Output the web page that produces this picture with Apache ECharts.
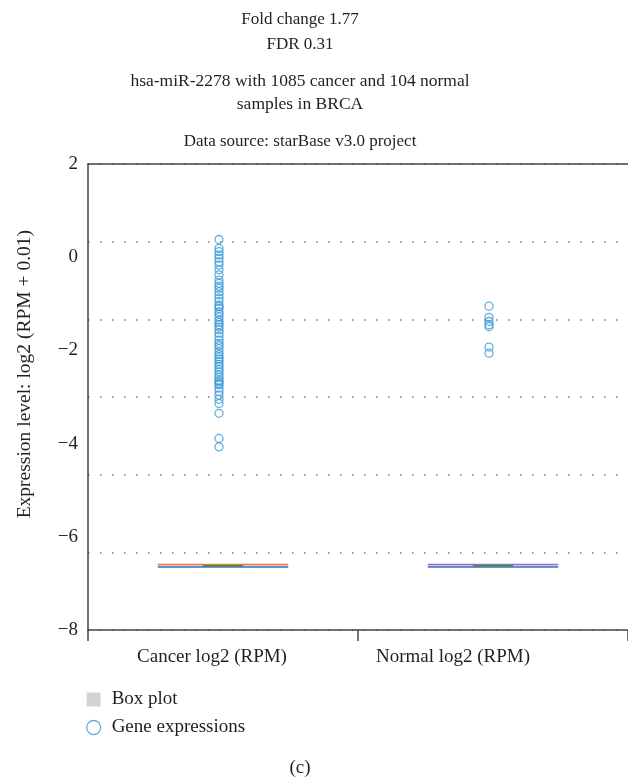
<!DOCTYPE html>
<html>
<head>
<meta charset="utf-8">
<script src="https://cdn.jsdelivr.net/npm/echarts@6/dist/echarts.min.js"></script>
<style>
html,body{margin:0;padding:0;background:#fff;}
#chart{width:628px;height:779px;}
</style>
</head>
<body>
<div id="chart"></div>
<script>
const categories = ['Cancer log2 (RPM)', 'Normal log2 (RPM)'];
const yTicks = [-8, -6, -4, -2, 0, 2];
// visible (distinct) sample values, log2(RPM + 0.01)
const cancerValues = [0.38, 0.19, 0.12, 0.05, -0.02, -0.10, -0.17, -0.27, -0.38, -0.49, -0.56, -0.62, -0.67, -0.74, -0.81, -0.88, -0.95, -1.03, -1.06, -1.10, -1.17, -1.22, -1.28, -1.35, -1.40, -1.45, -1.50, -1.56, -1.63, -1.70, -1.78, -1.85, -1.90, -1.96, -2.03, -2.09, -2.14, -2.19, -2.24, -2.30, -2.35, -2.41, -2.46, -2.53, -2.58, -2.64, -2.67, -2.71, -2.74, -2.81, -2.88, -2.96, -3.05, -3.14, -3.35, -3.89, -4.07];
const normalValues = [-1.05, -1.29, -1.38, -1.45, -1.49, -1.93, -2.06];
// min, Q1, median, Q3, max
const cancerBox = [-6.644, -6.644, -6.644, -6.644, -6.644];
const normalBox = [-6.644, -6.644, -6.644, -6.644, -6.644];
const titleLines1 = 'Fold change 1.77\nFDR 0.31';
const titleLines2 = 'hsa-miR-2278 with 1085 cancer and 104 normal\nsamples in BRCA';
const titleLines3 = 'Data source: starBase v3.0 project';
const yName = 'Expression level: log2 (RPM + 0.01)';

const FONT = '"Liberation Serif", "DejaVu Serif", serif';
const TXT = '#231f20';
const boxTopColors = ['#ee7733', '#9a6ad0'];
const labelShiftPad = [22, 80];

const chart = echarts.init(document.getElementById('chart'), null, {renderer: 'canvas'});

const scatterData = cancerValues.map(v => [0, v]).concat(normalValues.map(v => [1, v]));
const boxData = [[0].concat(cancerBox), [1].concat(normalBox)];
const xCatData = categories.map((c, i) => ({value: c, textStyle: {padding: [0, labelShiftPad[i], 0, 0]}}));

const option = {
  backgroundColor: '#fff',
  animation: false,
  title: [
    {text: titleLines1, left: 300, top: 7, textAlign: 'center', padding: 0,
     textStyle: {fontFamily: FONT, fontSize: 17, fontWeight: 'normal', color: TXT, lineHeight: 25}},
    {text: titleLines2, left: 300, top: 70, textAlign: 'center', padding: 0,
     textStyle: {fontFamily: FONT, fontSize: 17.5, fontWeight: 'normal', color: TXT, lineHeight: 23}},
    {text: titleLines3, left: 300, top: 130, textAlign: 'center', padding: 0,
     textStyle: {fontFamily: FONT, fontSize: 17, fontWeight: 'normal', color: TXT, lineHeight: 23}},
    {text: '(c)', left: 300, top: 759, textAlign: 'center', padding: 0,
     textStyle: {fontFamily: FONT, fontSize: 19, fontWeight: 'normal', color: TXT}}
  ],
  legend: {
    orient: 'vertical', left: 86, top: 690, itemWidth: 14, itemHeight: 14, itemGap: 9,
    padding: 0, selectedMode: false,
    textStyle: {fontFamily: FONT, fontSize: 19, color: TXT, padding: [0, 0, 0, 6]},
    data: [
      {name: 'Box plot', icon: 'rect', itemStyle: {color: '#d3d3d3', borderWidth: 0}},
      {name: 'Gene expressions', icon: 'circle', itemStyle: {color: '#ffffff', borderColor: '#3d9ad6', borderWidth: 1.3}}
    ]
  },
  graphic: [
    {type: 'text', left: 15, top: 230, rotation: Math.PI / 2,
     style: {text: yName, font: '19.5px ' + FONT, fill: TXT}}
  ],
  grid: {left: 88, right: 0, top: 164, bottom: 149},
  xAxis: [
    {type: 'category', data: xCatData, boundaryGap: true,
     axisLine: {onZero: false, lineStyle: {color: '#444', width: 1.5}},
     axisTick: {show: true, length: 11, lineStyle: {color: '#444', width: 1.5}},
     axisLabel: {fontFamily: FONT, fontSize: 19, color: TXT, margin: 18, interval: 0},
     splitLine: {show: false}},
    {type: 'category', data: categories, position: 'top', boundaryGap: true,
     axisLine: {show: true, onZero: false, lineStyle: {color: '#444', width: 1.5}},
     axisTick: {show: false}, axisLabel: {show: false}, splitLine: {show: false}}
  ],
  yAxis: [
    {type: 'value', min: yTicks[0], max: yTicks[yTicks.length - 1], interval: 2,
     axisLine: {show: true, onZero: false, lineStyle: {color: '#444', width: 1.5}},
     axisTick: {show: false},
     axisLabel: {fontFamily: FONT, fontSize: 19, color: TXT, margin: 10,
                 formatter: v => (v < 0 ? '\u2212' + Math.abs(v) : String(v))},
     splitLine: {show: false}},
    {type: 'value', min: 0, max: 6, interval: 1, position: 'right',
     axisLine: {show: false}, axisTick: {show: false}, axisLabel: {show: false},
     splitLine: {show: true, lineStyle: {color: '#777', width: 1.5, type: [1.5, 10.5]}}}
  ],
  series: [
    {
      name: 'Box plot', type: 'custom', xAxisIndex: 0, yAxisIndex: 0,
      encode: {x: 0, y: [1, 2, 3, 4, 5]},
      data: boxData,
      z: 3,
      renderItem: function (params, api) {
        const xi = api.value(0);
        const q1 = api.coord([xi, api.value(2)]);
        const med = api.coord([xi, api.value(3)]);
        const q3 = api.coord([xi, api.value(4)]);
        const band = api.size([1, 0])[0];
        const w = band * 0.483;
        const cx = q1[0];
        const topY = q3[1] - 2.2;
        const botY = q1[1] + 0.2;
        const mw = w * 0.31;
        return {
          type: 'group',
          children: [
            {type: 'rect', shape: {x: cx - w / 2, y: topY, width: w, height: botY - topY},
             style: {fill: '#e4e0ea'}},
            {type: 'line', shape: {x1: cx - w / 2, y1: topY, x2: cx + w / 2, y2: topY},
             style: {stroke: boxTopColors[xi], lineWidth: 1.5}},
            {type: 'line', shape: {x1: cx - w / 2, y1: botY, x2: cx + w / 2, y2: botY},
             style: {stroke: '#3a6fc8', lineWidth: 1.5}},
            {type: 'line', shape: {x1: cx - mw / 2, y1: med[1] - 1, x2: cx + mw / 2, y2: med[1] - 1},
             style: {stroke: '#3f9040', lineWidth: 1.8}}
          ]
        };
      }
    },
    {
      name: 'Gene expressions', type: 'scatter', xAxisIndex: 0, yAxisIndex: 0,
      data: scatterData, symbol: 'circle', symbolSize: 8, symbolOffset: [-4, 0],
      itemStyle: {color: 'rgba(255,255,255,0)', borderColor: '#3d9ad6', borderWidth: 1.3},
      z: 4
    }
  ]
};
chart.setOption(option);
</script>
</body>
</html>
